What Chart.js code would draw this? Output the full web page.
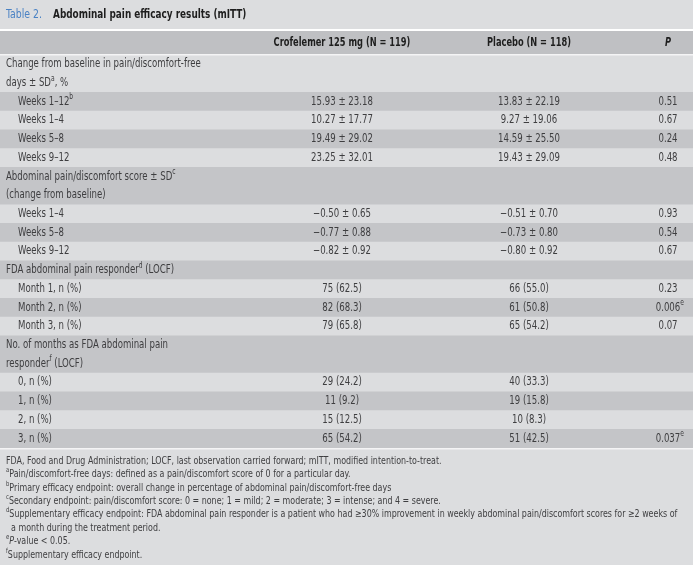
<!DOCTYPE html>
<html lang="en">
<head>
    <meta charset="UTF-8">
    <title>Table 2</title>
    <script src="https://cdn.jsdelivr.net/npm/chart.js@4.4.1/dist/chart.umd.min.js"></script>
    <style>
        html, body { margin: 0; padding: 0; background: #dcdddf; }
        canvas { display: block; }
    </style>
</head>
<body>
    <canvas id="table2" width="693" height="565"></canvas>
    <script>
        // one entry per printed line of the table body
        const rowLabels = [
            'Change from baseline in pain/discomfort-free',
            'days \u00b1 SD^a, %',
            'Weeks 1\u201312^b',
            'Weeks 1\u20134',
            'Weeks 5\u20138',
            'Weeks 9\u201312',
            'Abdominal pain/discomfort score \u00b1 SD^c',
            '(change from baseline)',
            'Weeks 1\u20134',
            'Weeks 5\u20138',
            'Weeks 9\u201312',
            'FDA abdominal pain responder^d (LOCF)',
            'Month 1, n (%)',
            'Month 2, n (%)',
            'Month 3, n (%)',
            'No. of months as FDA abdominal pain',
            'responder^f (LOCF)',
            '0, n (%)',
            '1, n (%)',
            '2, n (%)',
            '3, n (%)',
        ];
        // 1 = section heading line, 0 = indented item
        const rowIsSection = [1, 1, 0, 0, 0, 0, 1, 1, 0, 0, 0, 1, 0, 0, 0, 1, 1, 0, 0, 0, 0];
        // 1 = darker band
        const rowShade = [0, 0, 1, 0, 1, 0, 1, 1, 0, 1, 0, 1, 0, 1, 0, 1, 1, 0, 1, 0, 1];

        const columnHeaders = ['', 'Crofelemer 125 mg (N = 119)', 'Placebo (N = 118)', '*P*'];

        const crofelemer = ['', '', '15.93 \u00b1 23.18', '10.27 \u00b1 17.77', '19.49 \u00b1 29.02', '23.25 \u00b1 32.01',
            '', '', '\u22120.50 \u00b1 0.65', '\u22120.77 \u00b1 0.88', '\u22120.82 \u00b1 0.92',
            '', '75 (62.5)', '82 (68.3)', '79 (65.8)',
            '', '', '29 (24.2)', '11 (9.2)', '15 (12.5)', '65 (54.2)'];
        const placebo = ['', '', '13.83 \u00b1 22.19', '9.27 \u00b1 19.06', '14.59 \u00b1 25.50', '19.43 \u00b1 29.09',
            '', '', '\u22120.51 \u00b1 0.70', '\u22120.73 \u00b1 0.80', '\u22120.80 \u00b1 0.92',
            '', '66 (55.0)', '61 (50.8)', '65 (54.2)',
            '', '', '40 (33.3)', '19 (15.8)', '10 (8.3)', '51 (42.5)'];
        const pValues = ['', '', '0.51', '0.67', '0.24', '0.48',
            '', '', '0.93', '0.54', '0.67',
            '', '0.23', '0.006^e', '0.07',
            '', '', '', '', '', '0.037^e'];

        const footnotes = [
            'FDA, Food and Drug Administration; LOCF, last observation carried forward; mITT, modified intention-to-treat.',
            '^aPain/discomfort-free days: defined as a pain/discomfort score of 0 for a particular day.',
            '^bPrimary efficacy endpoint: overall change in percentage of abdominal pain/discomfort-free days',
            '^cSecondary endpoint: pain/discomfort score: 0 = none; 1 = mild; 2 = moderate; 3 = intense; and 4 = severe.',
            '^dSupplementary efficacy endpoint: FDA abdominal pain responder is a patient who had \u226530% improvement in weekly abdominal pain/discomfort scores for \u22652 weeks of',
            '  a month during the treatment period.',
            '^e*P*-value < 0.05.',
            '^fSupplementary efficacy endpoint.',
        ];

        const titleLabel = 'Table 2.';
        const titleText = 'Abdominal pain efficacy results (mITT)';

        // layout
        const FONT = '"Liberation Sans Narrow", "DejaVu Sans Condensed", "Arial Narrow", sans-serif';
        const BG = '#dcdddf';
        const LIGHT = '#dcdddf';
        const DARK = '#c4c5c8';
        const HEAD = '#bfc0c3';
        const TEXT = '#3e3e40';
        const colX = [6, 342, 529, 668];

        // draws text with ^x superscripts and *italic* parts, squeezed by sx
        function drawRich(ctx, text, x, y, align, size, weight, color, sx) {
            let parts = text.split(/(\^\w|\*[^*]+\*)/).filter(s => s.length);
            let segs = parts.map(p => {
                if (p[0] === '^') return { t: p.slice(1), font: weight + ' ' + Math.round(size * 0.68) + 'px ' + FONT, dy: -size * 0.38 };
                if (p[0] === '*') return { t: p.slice(1, -1), font: 'italic ' + weight + ' ' + size + 'px ' + FONT, dy: 0 };
                return { t: p, font: weight + ' ' + size + 'px ' + FONT, dy: 0 };
            });
            let baseW = 0;
            segs.forEach(s => {
                ctx.font = s.font;
                s.w = ctx.measureText(s.t).width * sx;
                if (s.dy === 0) baseW += s.w;
            });
            let cx = x;
            if (align === 'center') cx = x - baseW / 2;
            if (align === 'right') cx = x - baseW;
            ctx.fillStyle = color;
            ctx.textAlign = 'left';
            ctx.textBaseline = 'middle';
            segs.forEach(s => {
                ctx.save();
                ctx.font = s.font;
                ctx.translate(cx, y + s.dy);
                ctx.scale(sx, 1);
                ctx.fillText(s.t, 0, 0);
                ctx.restore();
                cx += s.w;
            });
        }

        const tablePlugin = {
            id: 'tablePlugin',
            beforeDraw(chart) {
                let ctx = chart.ctx;
                ctx.save();
                ctx.fillStyle = BG;
                ctx.fillRect(0, 0, chart.width, chart.height);
                ctx.restore();
            },
            afterDatasetsDraw(chart) {
                let ctx = chart.ctx;
                let area = chart.chartArea;
                let yScale = chart.scales.y;
                ctx.save();

                // title
                drawRich(ctx, titleLabel, 6, 15, 'left', 13, 'normal', '#4a82c4', 0.8);
                drawRich(ctx, titleText, 53, 15, 'left', 13, 'bold', '#1e1e1e', 0.76);

                // header band
                ctx.fillStyle = '#ffffff';
                ctx.fillRect(0, area.top - 26, chart.width, 2);
                ctx.fillStyle = HEAD;
                ctx.fillRect(0, area.top - 24, chart.width, 23);
                ctx.fillStyle = '#f4f4f5';
                ctx.fillRect(0, area.top - 1, chart.width, 1.5);
                for (let c = 1; c < columnHeaders.length; c++) {
                    drawRich(ctx, columnHeaders[c], colX[c], area.top - 12, 'center', 11.5, 'bold', '#1e1e1e', 0.8);
                }

                // body cells
                rowLabels.forEach((label, i) => {
                    let y = yScale.getPixelForValue(i);
                    drawRich(ctx, label, rowIsSection[i] ? colX[0] : colX[0] + 12, y, 'left', 11.5, 'normal', TEXT, 0.83);
                    if (crofelemer[i]) drawRich(ctx, crofelemer[i], colX[1], y, 'center', 11.5, 'normal', TEXT, 0.83);
                    if (placebo[i]) drawRich(ctx, placebo[i], colX[2], y, 'center', 11.5, 'normal', TEXT, 0.83);
                    if (pValues[i]) drawRich(ctx, pValues[i], colX[3], y, 'center', 11.5, 'normal', TEXT, 0.83);
                });

                // bottom rule
                ctx.fillStyle = '#f4f4f5';
                ctx.fillRect(0, area.bottom, chart.width, 1.5);

                // footnotes
                footnotes.forEach((note, k) => {
                    drawRich(ctx, note, 6, area.bottom + 13 + k * 13.4, 'left', 10.5, 'normal', TEXT, 0.84);
                });
                ctx.restore();
            }
        };

        new Chart(document.getElementById('table2').getContext('2d'), {
            type: 'bar',
            data: {
                labels: rowLabels,
                datasets: [{
                    data: rowLabels.map(() => [0, 1]),
                    backgroundColor: rowShade.map(s => s ? DARK : LIGHT),
                    borderWidth: 0,
                    barPercentage: 1,
                    categoryPercentage: 1,
                }]
            },
            options: {
                indexAxis: 'y',
                responsive: false,
                devicePixelRatio: 1,
                animation: false,
                layout: { padding: { top: 55, bottom: 117, left: 0, right: 0 } },
                scales: {
                    x: { display: false, min: 0, max: 1 },
                    y: { display: false },
                },
                plugins: {
                    legend: { display: false },
                    tooltip: { enabled: false },
                    title: { display: false },
                },
            },
            plugins: [tablePlugin],
        });
    </script>
</body>
</html>
